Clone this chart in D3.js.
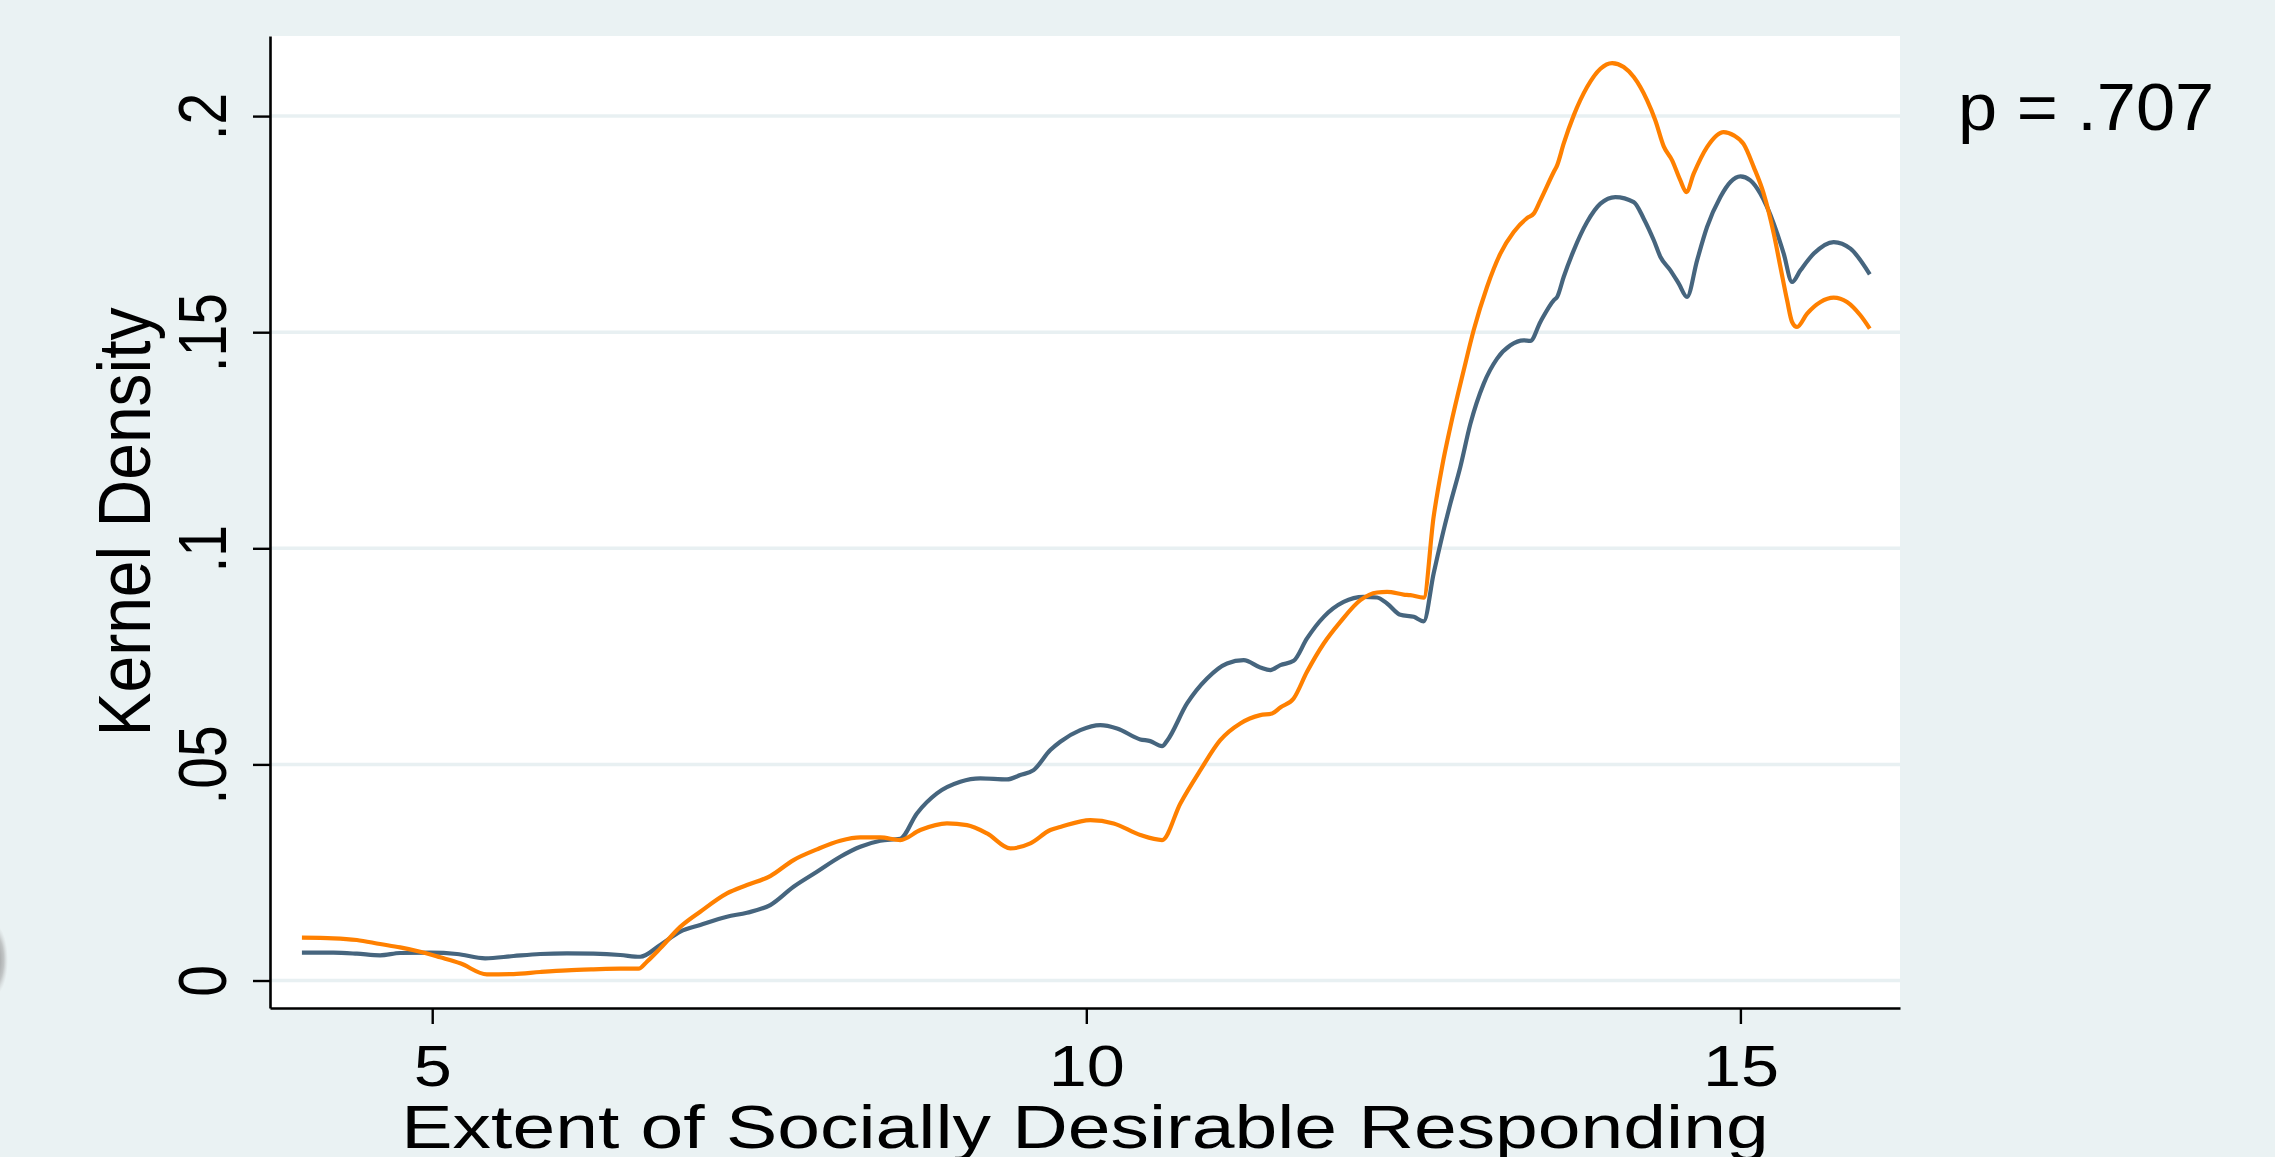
<!DOCTYPE html>
<html>
<head>
<meta charset="utf-8">
<script src="https://cdn.jsdelivr.net/npm/d3@7"></script>
<style>
  html, body { margin: 0; padding: 0; background: #eaf2f3; }
  svg { display: block; }
  text { font-family: "Liberation Sans", Arial, Helvetica, sans-serif; fill: #000; }
</style>
</head>
<body>
<svg id="chart" width="2275" height="1157"></svg>
<script>
// Kernel density estimates of the socially desirable responding score, two groups
const xBlue = [4.004, 4.245, 4.424, 4.602, 4.755, 4.985, 5.189, 5.405, 5.622, 5.826, 6.03, 6.233, 6.437, 6.59,
  6.743, 6.896, 7.049, 7.253, 7.406, 7.584, 7.762, 7.941, 8.119, 8.272, 8.425, 8.578, 8.705, 8.858, 9.037,
  9.19, 9.394, 9.495, 9.597, 9.725, 9.801, 9.954, 10.107, 10.235, 10.413, 10.489, 10.579, 10.617, 10.77,
  10.923, 11.076, 11.203, 11.33, 11.407, 11.483, 11.585, 11.687, 11.815, 11.967, 12.12, 12.222, 12.299,
  12.401, 12.503, 12.579, 12.655, 12.719, 12.783, 12.859, 12.936, 13.038, 13.14, 13.242, 13.343, 13.394,
  13.471, 13.573, 13.599, 13.649, 13.726, 13.828, 13.93, 14.044, 14.185, 14.261, 14.338, 14.389, 14.465,
  14.529, 14.592, 14.669, 14.745, 14.847, 14.924, 15.0, 15.076, 15.153, 15.255, 15.331, 15.395, 15.459,
  15.561, 15.713, 15.841, 15.989];
const yBlue = [0.00643, 0.00643, 0.0062, 0.00582, 0.00636, 0.00643, 0.00613, 0.00513, 0.00567, 0.00613, 0.00628,
  0.0062, 0.0059, 0.0055, 0.00821, 0.0113, 0.01284, 0.01476, 0.01569, 0.01746, 0.02169, 0.02516, 0.02863,
  0.03094, 0.03233, 0.0328, 0.03866, 0.04329, 0.04598, 0.04676, 0.04653, 0.04753, 0.04868, 0.05331, 0.05524,
  0.05793, 0.05909, 0.05832, 0.05578, 0.05539, 0.05423, 0.05546, 0.06411, 0.06989, 0.07336, 0.07412, 0.07243,
  0.07181, 0.07297, 0.07396, 0.07914, 0.08414, 0.0876, 0.08876, 0.08862, 0.08723, 0.0846, 0.08414, 0.0831,
  0.09417, 0.10264, 0.11036, 0.11883, 0.1288, 0.13811, 0.14389, 0.14697, 0.14813, 0.14798, 0.15238, 0.15738,
  0.15815, 0.16277, 0.16894, 0.17549, 0.17974, 0.18127, 0.18011, 0.17627, 0.17126, 0.16739, 0.16431, 0.16124,
  0.15815, 0.16663, 0.17433, 0.18127, 0.18474, 0.18605, 0.18513, 0.18206, 0.17512, 0.16818, 0.16161, 0.16432,
  0.16818, 0.17086, 0.16933, 0.16339];

const xOrange = [4.004, 4.245, 4.424, 4.602, 4.755, 4.908, 5.061, 5.214, 5.418, 5.622, 5.826, 6.03, 6.233, 6.437,
  6.577, 6.641, 6.743, 6.896, 7.049, 7.253, 7.406, 7.584, 7.762, 7.941, 8.119, 8.272, 8.425, 8.578, 8.731,
  8.935, 9.088, 9.241, 9.419, 9.572, 9.725, 9.801, 10.031, 10.209, 10.413, 10.579, 10.719, 10.872, 11.024,
  11.177, 11.33, 11.42, 11.483, 11.585, 11.687, 11.815, 11.942, 12.095, 12.222, 12.299, 12.426, 12.477,
  12.579, 12.655, 12.719, 12.783, 12.885, 12.961, 13.063, 13.165, 13.267, 13.369, 13.42, 13.471, 13.573,
  13.599, 13.649, 13.726, 13.828, 13.93, 14.019, 14.108, 14.185, 14.287, 14.35, 14.414, 14.478, 14.541,
  14.587, 14.643, 14.745, 14.872, 14.949, 15.025, 15.102, 15.178, 15.255, 15.306, 15.357, 15.395, 15.433,
  15.51, 15.612, 15.713, 15.815, 15.917, 15.989];
const yOrange = [0.0099, 0.00976, 0.00937, 0.00844, 0.00767, 0.00666, 0.00536, 0.00397, 0.00143, 0.0015, 0.00197,
  0.00236, 0.00258, 0.00273, 0.00273, 0.00435, 0.00744, 0.0124, 0.01592, 0.02016, 0.02209, 0.02417, 0.02787,
  0.03034, 0.03233, 0.03311, 0.03311, 0.03249, 0.03481, 0.03635, 0.03596, 0.03404, 0.03057, 0.03173, 0.03481,
  0.0355, 0.03712, 0.03635, 0.03365, 0.03249, 0.04098, 0.04868, 0.05562, 0.05948, 0.0614, 0.06179, 0.06318,
  0.06526, 0.07142, 0.07798, 0.08298, 0.088, 0.08978, 0.08992, 0.0893, 0.08915, 0.0886, 0.1073, 0.1188,
  0.1281, 0.14119, 0.15044, 0.16046, 0.16817, 0.17318, 0.17641, 0.17743, 0.1805, 0.18705, 0.1886, 0.19361,
  0.20016, 0.20672, 0.21096, 0.21227, 0.21134, 0.20902, 0.20363, 0.199, 0.1930, 0.18976, 0.18513, 0.18243,
  0.18668, 0.19283, 0.1963, 0.19554, 0.1935, 0.1882, 0.18206, 0.1728, 0.16508, 0.15738, 0.15236, 0.1512,
  0.1543, 0.15699, 0.158, 0.15699, 0.15391, 0.15083];

const xTickValues = [5, 10, 15];
const xTickLabels = ["5", "10", "15"];
const yTickValues = [0, 0.05, 0.1, 0.15, 0.2];
const yTickLabels = ["0", ".05", ".1", ".15", ".2"];

const xTitle = "Extent of Socially Desirable Responding";
const yTitle = "Kernel Density";
const note = "p = .707";

// layout
const plot = { left: 270, right: 1900, top: 36, bottom: 1008 };
const bg = "#eaf2f3";
const gridColor = "#e8f0f2";
const blueColor = "#46657e";
const orangeColor = "#ff8000";
const textStretch = 1.2;

const svg = d3.select("#chart");

const x = d3.scaleLinear().domain([3.76, 16.22]).range([plot.left, plot.right]);
const y = d3.scaleLinear().domain([-0.00636, 0.21853]).range([plot.bottom, plot.top]);

// page background
svg.append("rect").attr("width", 2275).attr("height", 1157).attr("fill", bg);

// soft grey shape at the left edge
const defs = svg.append("defs");
const rg = defs.append("radialGradient").attr("id", "edgeShade");
rg.append("stop").attr("offset", "0%").attr("stop-color", "#777").attr("stop-opacity", 0.9);
rg.append("stop").attr("offset", "70%").attr("stop-color", "#999").attr("stop-opacity", 0.5);
rg.append("stop").attr("offset", "100%").attr("stop-color", "#bbb").attr("stop-opacity", 0);
svg.append("ellipse").attr("cx", -6).attr("cy", 960).attr("rx", 14).attr("ry", 36)
  .attr("fill", "url(#edgeShade)");

// plot region
svg.append("rect")
  .attr("x", plot.left).attr("y", plot.top)
  .attr("width", plot.right - plot.left).attr("height", plot.bottom - plot.top)
  .attr("fill", "#fff");

// horizontal grid
svg.append("g").selectAll("line").data(yTickValues).join("line")
  .attr("x1", plot.left).attr("x2", plot.right)
  .attr("y1", d => y(d)).attr("y2", d => y(d))
  .attr("stroke", gridColor).attr("stroke-width", 3.5);

// density curves
const line = (xs, ys) => d3.line()
  .x((d, i) => x(xs[i]))
  .y((d, i) => y(ys[i]))
  .curve(d3.curveMonotoneX)(ys);

svg.append("path").attr("d", line(xBlue, yBlue))
  .attr("fill", "none").attr("stroke", blueColor).attr("stroke-width", 4.2)
  .attr("stroke-linejoin", "round");
svg.append("path").attr("d", line(xOrange, yOrange))
  .attr("fill", "none").attr("stroke", orangeColor).attr("stroke-width", 4.2)
  .attr("stroke-linejoin", "round");

// x axis
const xAxis = svg.append("g")
  .attr("transform", `translate(0,${plot.bottom})`)
  .call(d3.axisBottom(x).tickValues(xTickValues).tickSize(16).tickSizeOuter(0)
    .tickFormat((d, i) => xTickLabels[i]));
xAxis.select(".domain").attr("stroke", "#000").attr("stroke-width", 2.6);
xAxis.selectAll(".tick line").attr("stroke", "#000").attr("stroke-width", 2.4);
xAxis.selectAll(".tick text")
  .attr("y", 78).attr("dy", 0)
  .attr("transform", `scale(${textStretch},1)`)
  .attr("font-size", 57).attr("fill", "#000")
  .attr("font-family", "Liberation Sans, Arial, sans-serif");

// y axis
const yAxis = svg.append("g")
  .attr("transform", `translate(${plot.left},0)`)
  .call(d3.axisLeft(y).tickValues(yTickValues).tickSize(17).tickSizeOuter(0)
    .tickFormat((d, i) => yTickLabels[i]));
yAxis.select(".domain").attr("stroke", "#000").attr("stroke-width", 2.6);
yAxis.selectAll(".tick line").attr("stroke", "#000").attr("stroke-width", 2.4);
yAxis.selectAll(".tick text")
  .attr("x", 0).attr("dy", 0).attr("text-anchor", "middle")
  .attr("transform", `translate(-44,0) scale(${textStretch},1) rotate(-90)`)
  .attr("font-size", 57).attr("fill", "#000")
  .attr("font-family", "Liberation Sans, Arial, sans-serif");

// axis titles
svg.append("text")
  .attr("transform", `translate(${(plot.left + plot.right) / 2},1148) scale(1.24,1)`)
  .attr("text-anchor", "middle").attr("font-size", 62)
  .text(xTitle);

svg.append("text")
  .attr("transform", `translate(150,${(plot.top + plot.bottom) / 2}) scale(1.13,1) rotate(-90)`)
  .attr("text-anchor", "middle").attr("font-size", 66)
  .text(yTitle);

// annotation
svg.append("text")
  .attr("transform", "translate(1958,130) scale(1.05,1)")
  .attr("font-size", 67)
  .text(note);
</script>
</body>
</html>
